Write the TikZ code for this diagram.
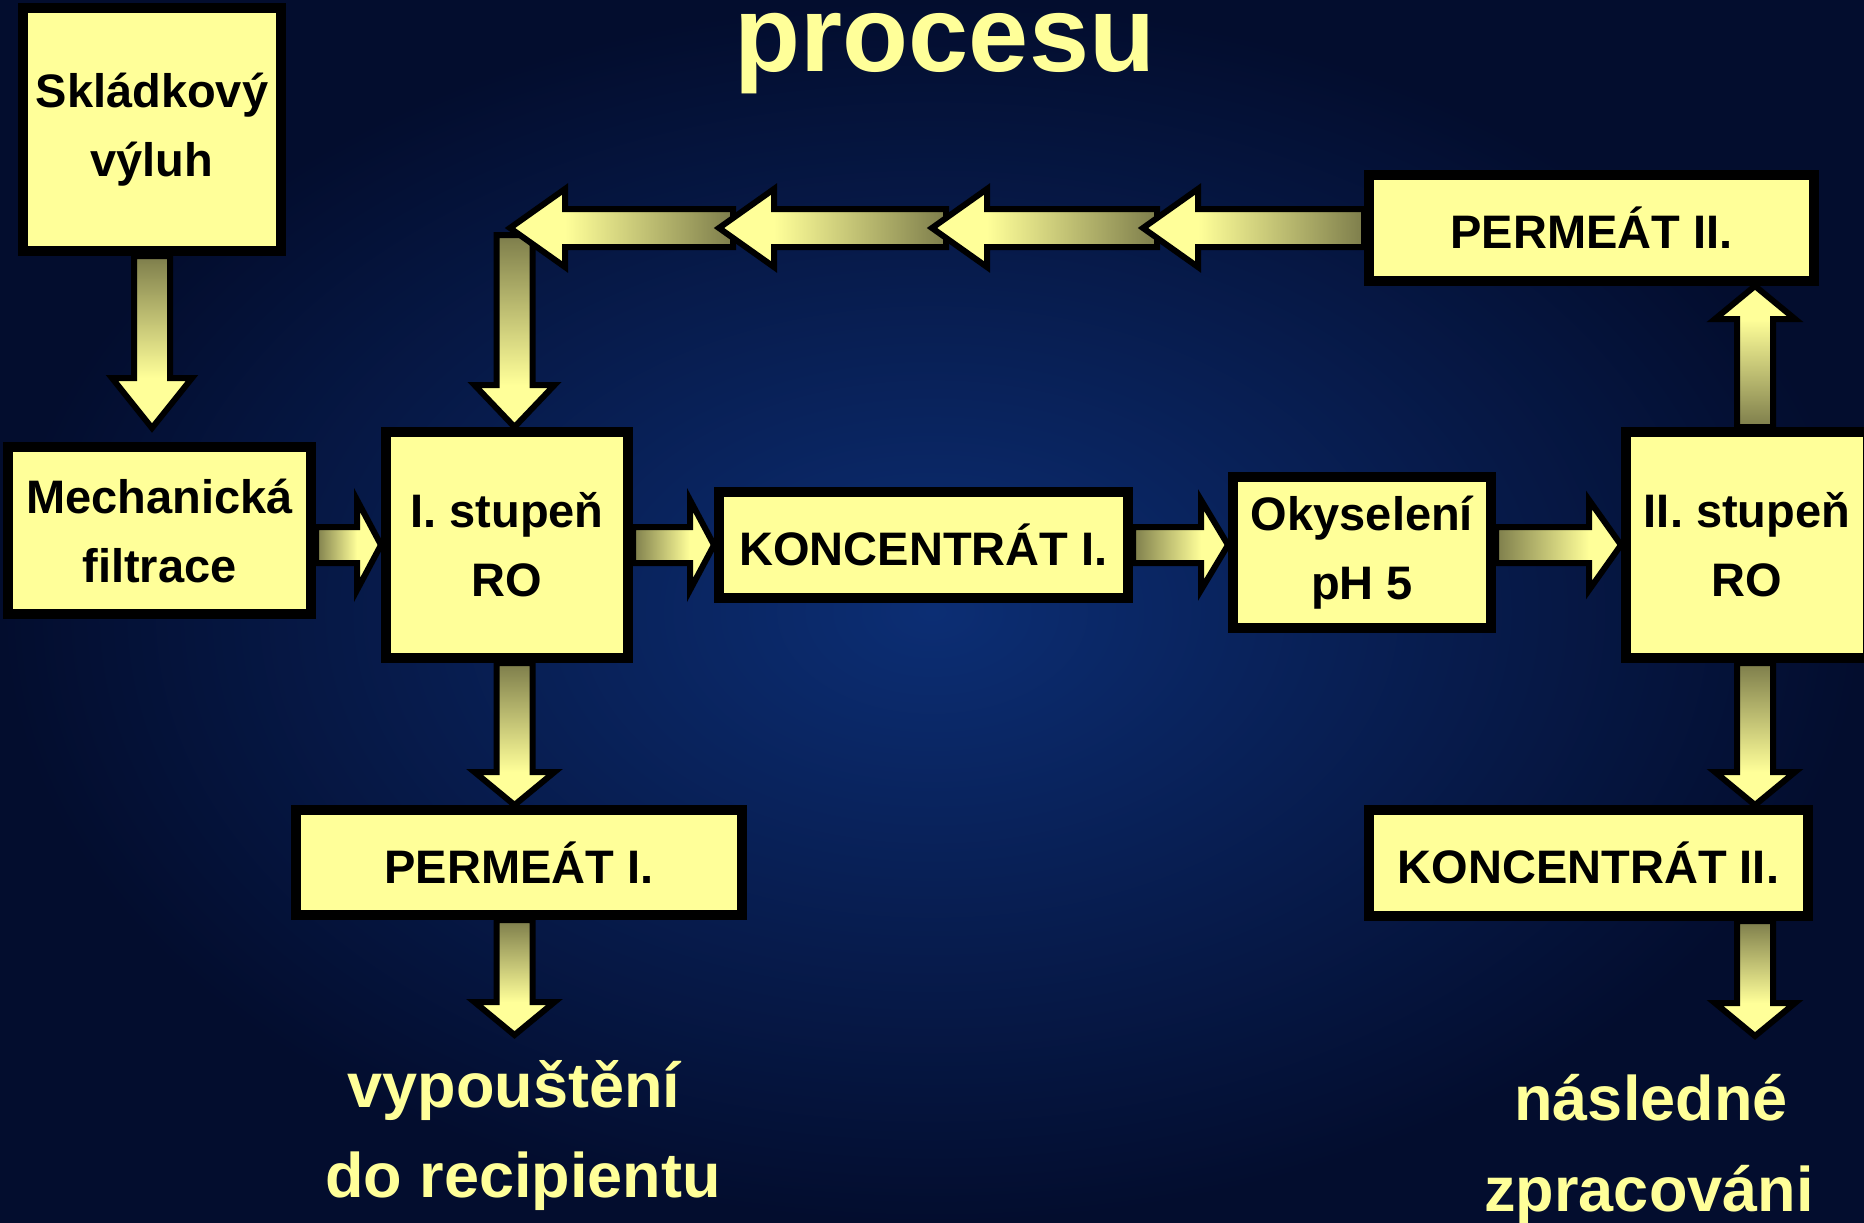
\documentclass[tikz,border=0pt]{standalone}
\usepackage{fontspec}
\setmainfont{Liberation Sans}
\usetikzlibrary{calc}
\definecolor{ly}{RGB}{255,255,153}
\definecolor{olv}{RGB}{125,125,75}
\definecolor{bgin}{RGB}{12,46,116}
\definecolor{bgout}{RGB}{3,13,46}
\pgfdeclarelayer{back}
\pgfdeclarelayer{arrows}
\pgfsetlayers{back,arrows,main}

% block arrow: #1 start, #2 tip, #3 shaft half width, #4 head half width, #5 head length
\newcommand\barrow[5]{%
  \path (#1) coordinate (bS) (#2) coordinate (bE);
  \path let \p1=($(bE)-(bS)$), \n1={atan2(\y1,\x1)-90} in \pgfextra{\xdef\bsa{\n1}};
  \coordinate (bN) at ($(bE)!#5pt!(bS)$);
  \shade[top color=ly, bottom color=olv, shading angle=\bsa]
    ($(bS)!#3pt!90:(bE)$) -- ($(bN)!#3pt!90:(bE)$) -- ($(bN)!#3pt!-90:(bE)$) -- ($(bS)!#3pt!-90:(bE)$) -- cycle;
  \fill[ly] ($(bN)!#4pt!90:(bE)$) -- (bE) -- ($(bN)!#4pt!-90:(bE)$) -- cycle;
  \draw[line width=6pt, line join=miter, miter limit=20]
    ($(bS)!#3pt!90:(bE)$) -- ($(bN)!#3pt!90:(bE)$) -- ($(bN)!#4pt!90:(bE)$) -- (bE)
    -- ($(bN)!#4pt!-90:(bE)$) -- ($(bN)!#3pt!-90:(bE)$) -- ($(bS)!#3pt!-90:(bE)$) -- cycle;
}

\tikzset{
  box/.style={draw=black, line width=10pt, fill=ly, inner sep=0pt, align=center,
    font=\fontsize{47}{69}\selectfont\bfseries, text=black},
  note/.style={text=ly, font=\fontsize{63}{63}\selectfont\bfseries, inner sep=0pt, anchor=base}
}

\begin{document}
\begin{tikzpicture}[x=1pt,y=-1pt]
\useasboundingbox (0,0) rectangle (1864,1223);
\begin{pgfonlayer}{back}
\shade[inner color=bgin, outer color=bgout] (0,0) rectangle (1864,1223);
\end{pgfonlayer}

% boxes
\node[box, minimum width=258pt, minimum height=243pt] (skl) at (152,129.5) {Skládkový\\výluh};
\node[box, minimum width=303pt, minimum height=167pt] (mech) at (159.5,530.5) {Mechanická\\filtrace};
\node[box, minimum width=242pt, minimum height=226pt] (ro1) at (507,545) {I. stupeň\\RO};
\node[box, minimum width=409pt, minimum height=106pt] (k1) at (923.5,545) {KONCENTRÁT I.};
\node[box, minimum width=258pt, minimum height=151pt] (oky) at (1362,552.5) {Okyselení\\pH 5};
\node[box, minimum width=242pt, minimum height=226pt] (ro2) at (1747,545) {II. stupeň\\RO};
\node[box, minimum width=445pt, minimum height=106pt] (p2) at (1591.5,228) {PERMEÁT II.};
\node[box, minimum width=446pt, minimum height=105pt] (p1) at (519,862.5) {PERMEÁT I.};
\node[box, minimum width=439pt, minimum height=106pt] (k2) at (1588.5,863) {KONCENTRÁT II.};

% texts
\node[text=ly, font=\fontsize{108}{108}\selectfont\bfseries, inner sep=0pt, anchor=base] (title) at (945,71) {procesu};
\node[note] (l1) at (514,1107) {vypouštění};
\node[note] (l2) at (523,1197) {do recipientu};
\node[note] (r1) at (1651,1120) {následné};
\node[note] (r2) at (1649,1211) {zpracováni};

% helper coordinates
\coordinate (lcol) at ($(ro1.center)+(7.5,0)$);
\coordinate (rcol) at ($(ro2.center)+(8,0)$);
\coordinate (out1) at (514.5,1035);
\coordinate (out2) at (1755,1036);
\coordinate (t0) at (514.5,235);
\coordinate (t1) at (510,228);
\coordinate (t2) at (719,228);
\coordinate (t3) at (932,228);
\coordinate (t4) at (1143,228);

\begin{pgfonlayer}{arrows}
\barrow{skl.south}{$(mech.north -| skl.south)+(0,-14)$}{18}{40}{50}
\barrow{mech.east |- ro1.west}{ro1.west}{18}{45}{24}
\barrow{ro1.east}{k1.west}{18}{45}{24}
\barrow{k1.east}{oky.west |- k1.east}{18}{45}{27}
\barrow{oky.east |- ro2.west}{ro2.west}{18}{45}{32}
\barrow{rcol |- ro2.north}{rcol |- p2.south}{18}{40}{33}
\barrow{rcol |- ro2.south}{rcol |- k2.north}{18}{40}{33}
\barrow{rcol |- k2.south}{out2}{18}{40}{33}
\barrow{lcol |- ro1.south}{lcol |- p1.north}{18}{40}{33}
\barrow{lcol |- p1.south}{out1}{18}{40}{33}
\barrow{t0}{lcol |- ro1.north}{18}{40}{42}
\barrow{$(t2)+(14,0)$}{t1}{19}{39}{55}
\barrow{$(t3)+(14,0)$}{t2}{19}{39}{55}
\barrow{$(t4)+(14,0)$}{t3}{19}{39}{55}
\barrow{p2.west}{t4}{19}{39}{55}
\end{pgfonlayer}
\end{tikzpicture}
\end{document}
